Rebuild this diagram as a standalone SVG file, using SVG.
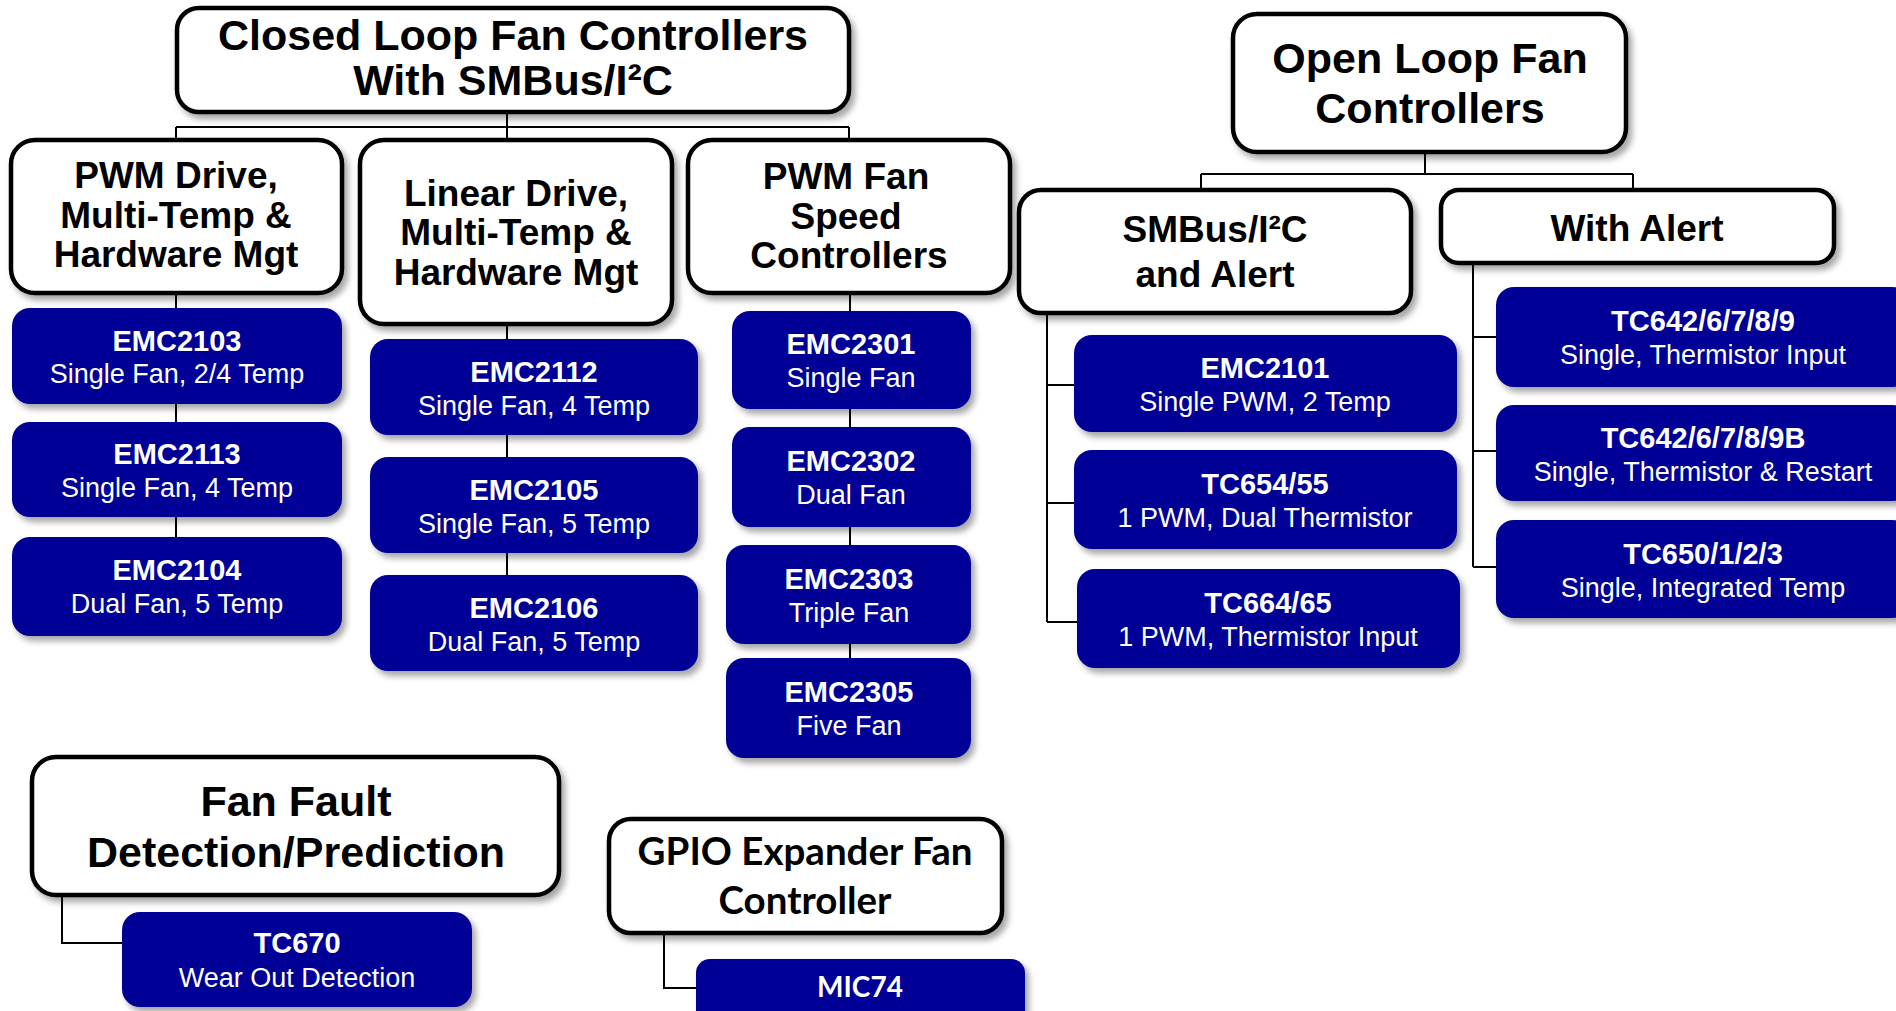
<svg xmlns="http://www.w3.org/2000/svg" width="1896" height="1011" viewBox="0 0 1896 1011">
<defs>
<filter id="sh" x="-10%" y="-10%" width="125%" height="130%">
<feDropShadow dx="4" dy="5" stdDeviation="3" flood-color="#000" flood-opacity="0.35"/>
</filter>
</defs>
<style>
.cat{fill:#fff;stroke:#000;stroke-width:4.5;filter:url(#sh)}
.dev{fill:#000096;filter:url(#sh)}
.ct{font-family:"Liberation Sans",Arial,sans-serif;font-weight:bold;fill:#000;text-anchor:middle}
.ct42{font-size:43px}
.ct36{font-size:37px}
.cal{font-family:Lato,"Open Sans",sans-serif;font-weight:bold;text-anchor:middle}
.t1{font-family:"Liberation Sans",Arial,sans-serif;font-weight:bold;font-size:29px;fill:#fff;text-anchor:middle}
.t2{font-family:"Liberation Sans",Arial,sans-serif;font-size:27px;fill:#fff;text-anchor:middle}
.ln{fill:none;stroke:#000;stroke-width:2}
</style>

<g id="connectors">
<path class="ln" d="M507,112 V127 M176,127 H849 M176,127 V140 M507,127 V140 M849,127 V140"/>
<path class="ln" d="M176,293 V537"/>
<path class="ln" d="M507,324 V575"/>
<path class="ln" d="M850,293 V658"/>
<path class="ln" d="M1425,152 V174 M1201,174 H1633 M1201,174 V190 M1633,174 V190"/>
<path class="ln" d="M1047,313 V622 M1047,385 H1074 M1047,503 H1074 M1047,622 H1077"/>
<path class="ln" d="M1473,263 V567 M1473,337 H1496 M1473,451 H1496 M1473,567 H1496"/>
<path class="ln" d="M62,895 V943 H122"/>
<path class="ln" d="M664,933 V988 H696"/>
</g>

<g id="closed-loop">
<rect class="cat" x="177" y="8" width="672" height="104" rx="22"/>
<text class="ct ct42" x="513" y="50">Closed Loop Fan Controllers</text>
<text class="ct ct42" x="513" y="95">With SMBus/I²C</text>
</g>

<g id="pwm-drive">
<rect class="cat" x="11" y="140" width="331" height="153" rx="24"/>
<text class="ct ct36" x="176" y="188">PWM Drive,</text>
<text class="ct ct36" x="176" y="228">Multi-Temp &amp;</text>
<text class="ct ct36" x="176" y="267">Hardware Mgt</text>
</g>

<g id="linear-drive">
<rect class="cat" x="360" y="140" width="312" height="184" rx="24"/>
<text class="ct ct36" x="516" y="206">Linear Drive,</text>
<text class="ct ct36" x="516" y="245">Multi-Temp &amp;</text>
<text class="ct ct36" x="516" y="285">Hardware Mgt</text>
</g>

<g id="pwm-fan">
<rect class="cat" x="688" y="140" width="322" height="153" rx="24"/>
<text class="ct ct36" x="846" y="189">PWM Fan</text>
<text class="ct ct36" x="846" y="229">Speed</text>
<text class="ct ct36" x="849" y="268">Controllers</text>
</g>

<g id="open-loop">
<rect class="cat" x="1233" y="14" width="393" height="138" rx="24"/>
<text class="ct ct42" x="1430" y="73">Open Loop Fan</text>
<text class="ct ct42" x="1430" y="123">Controllers</text>
</g>

<g id="smbus-alert">
<rect class="cat" x="1019" y="190" width="392" height="123" rx="22"/>
<text class="ct ct36" x="1215" y="242">SMBus/I²C</text>
<text class="ct ct36" x="1215" y="287">and Alert</text>
</g>

<g id="with-alert">
<rect class="cat" x="1441" y="190" width="393" height="73" rx="18"/>
<text class="ct ct36" x="1637" y="241">With Alert</text>
</g>

<g id="fan-fault">
<rect class="cat" x="32" y="757" width="527" height="138" rx="24"/>
<text class="ct ct42" x="296" y="816">Fan Fault</text>
<text class="ct ct42" x="296" y="867">Detection/Prediction</text>
</g>

<g id="gpio">
<rect class="cat" x="609" y="819" width="393" height="114" rx="22"/>
<text class="cal" font-size="38.5" x="805" y="865">GPIO Expander Fan</text>
<text class="cal" font-size="38.5" x="805" y="914">Controller</text>
</g>

<g id="emc2103">
<rect class="dev" x="12" y="308" width="330" height="96" rx="18"/>
<text class="t1" x="177" y="351">EMC2103</text>
<text class="t2" x="177" y="383">Single Fan, 2/4 Temp</text>
</g>
<g id="emc2113">
<rect class="dev" x="12" y="422" width="330" height="95" rx="18"/>
<text class="t1" x="177" y="464">EMC2113</text>
<text class="t2" x="177" y="497">Single Fan, 4 Temp</text>
</g>
<g id="emc2104">
<rect class="dev" x="12" y="537" width="330" height="99" rx="18"/>
<text class="t1" x="177" y="580">EMC2104</text>
<text class="t2" x="177" y="613">Dual Fan, 5 Temp</text>
</g>

<g id="emc2112">
<rect class="dev" x="370" y="339" width="328" height="96" rx="18"/>
<text class="t1" x="534" y="382">EMC2112</text>
<text class="t2" x="534" y="415">Single Fan, 4 Temp</text>
</g>
<g id="emc2105">
<rect class="dev" x="370" y="457" width="328" height="96" rx="18"/>
<text class="t1" x="534" y="500">EMC2105</text>
<text class="t2" x="534" y="533">Single Fan, 5 Temp</text>
</g>
<g id="emc2106">
<rect class="dev" x="370" y="575" width="328" height="96" rx="18"/>
<text class="t1" x="534" y="618">EMC2106</text>
<text class="t2" x="534" y="651">Dual Fan, 5 Temp</text>
</g>

<g id="emc2301">
<rect class="dev" x="732" y="311" width="239" height="98" rx="18"/>
<text class="t1" x="851" y="354">EMC2301</text>
<text class="t2" x="851" y="387">Single Fan</text>
</g>
<g id="emc2302">
<rect class="dev" x="732" y="427" width="239" height="100" rx="18"/>
<text class="t1" x="851" y="471">EMC2302</text>
<text class="t2" x="851" y="504">Dual Fan</text>
</g>
<g id="emc2303">
<rect class="dev" x="726" y="545" width="245" height="99" rx="18"/>
<text class="t1" x="849" y="589">EMC2303</text>
<text class="t2" x="849" y="622">Triple Fan</text>
</g>
<g id="emc2305">
<rect class="dev" x="726" y="658" width="245" height="100" rx="18"/>
<text class="t1" x="849" y="702">EMC2305</text>
<text class="t2" x="849" y="735">Five Fan</text>
</g>

<g id="emc2101">
<rect class="dev" x="1074" y="335" width="383" height="97" rx="18"/>
<text class="t1" x="1265" y="378">EMC2101</text>
<text class="t2" x="1265" y="411">Single PWM, 2 Temp</text>
</g>
<g id="tc654">
<rect class="dev" x="1074" y="450" width="383" height="99" rx="18"/>
<text class="t1" x="1265" y="494">TC654/55</text>
<text class="t2" x="1265" y="527">1 PWM, Dual Thermistor</text>
</g>
<g id="tc664">
<rect class="dev" x="1077" y="569" width="383" height="99" rx="18"/>
<text class="t1" x="1268" y="613">TC664/65</text>
<text class="t2" x="1268" y="646">1 PWM, Thermistor Input</text>
</g>

<g id="tc642">
<rect class="dev" x="1496" y="287" width="414" height="100" rx="18"/>
<text class="t1" x="1703" y="331">TC642/6/7/8/9</text>
<text class="t2" x="1703" y="364">Single, Thermistor Input</text>
</g>
<g id="tc642b">
<rect class="dev" x="1496" y="405" width="414" height="96" rx="18"/>
<text class="t1" x="1703" y="448">TC642/6/7/8/9B</text>
<text class="t2" x="1703" y="481">Single, Thermistor &amp; Restart</text>
</g>
<g id="tc650">
<rect class="dev" x="1496" y="520" width="414" height="98" rx="18"/>
<text class="t1" x="1703" y="564">TC650/1/2/3</text>
<text class="t2" x="1703" y="597">Single, Integrated Temp</text>
</g>

<g id="tc670">
<rect class="dev" x="122" y="912" width="350" height="95" rx="18"/>
<text class="t1" x="297" y="953">TC670</text>
<text class="t2" x="297" y="987">Wear Out Detection</text>
</g>

<g id="mic74">
<rect class="dev" x="696" y="959" width="329" height="80" rx="14"/>
<text class="cal" font-size="28" fill="#fff" x="860" y="997">MIC74</text>
</g>
</svg>
